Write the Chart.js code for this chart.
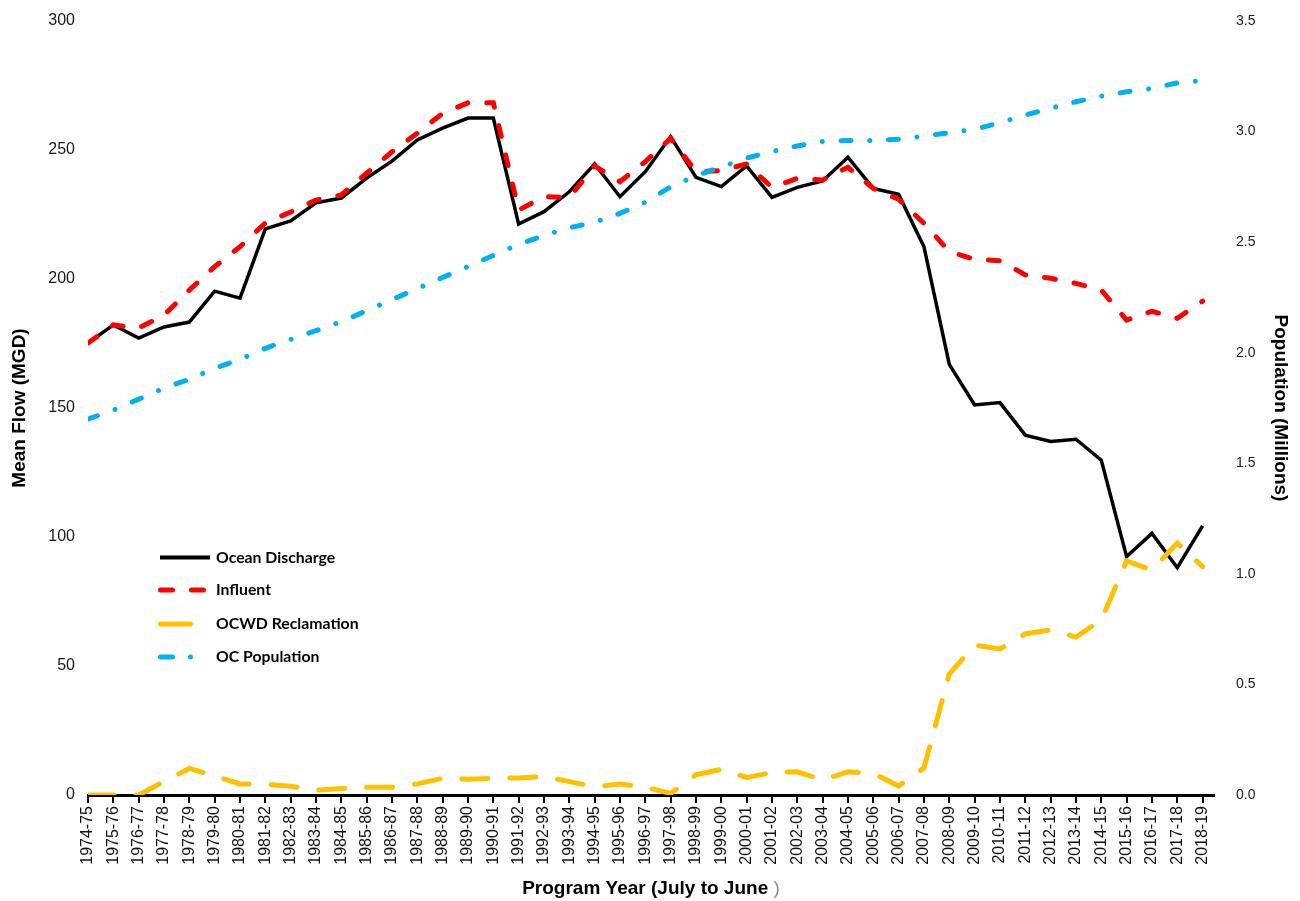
<!DOCTYPE html>
<html><head><meta charset="utf-8">
<script src="https://cdn.jsdelivr.net/npm/chart.js@4/dist/chart.umd.min.js"></script>
<style>html,body{margin:0;padding:0;background:#fff}#wrap{width:1300px;height:901px}</style>
</head><body><div id="wrap"><canvas id="c" width="1300" height="901"></canvas></div>
<script>
const categories = ['1974-75','1975-76','1976-77','1977-78','1978-79','1979-80','1980-81','1981-82','1982-83','1983-84','1984-85','1985-86','1986-87','1987-88','1988-89','1989-90','1990-91','1991-92','1992-93','1993-94','1994-95','1995-96','1996-97','1997-98','1998-99','1999-00','2000-01','2001-02','2002-03','2003-04','2004-05','2005-06','2006-07','2007-08','2008-09','2009-10','2010-11','2011-12','2012-13','2013-14','2014-15','2015-16','2016-17','2017-18','2018-19'];
const oceanDischarge = [175.2,182.2,177.1,181.4,183.3,195.3,192.6,219.4,222.5,229.5,231.4,239.1,245.7,253.9,258.5,262.4,262.4,221.3,226.1,233.8,244.6,231.9,241.6,255.2,239.4,235.8,243.8,231.6,235.5,238,247.2,235.1,232.8,212.5,166.9,151.2,152.1,139.5,137,137.9,129.8,92.4,101.4,88.1,104.3];
const influent = [175.2,182.2,181,186,195.7,204.8,212.5,221.7,226,230.6,232.6,241,249.3,256.5,264.2,268.3,268.3,226.7,231.9,231.6,243.8,237.7,245.5,254.5,241.6,242,244.6,235.5,239,238.4,243.3,235.1,230.9,221.6,210.6,207.6,207.1,201.6,200.3,198.3,195.7,184.1,187.5,184.8,191.4];
const ocwdReclamation = [0,0,0,5.2,10.3,7.4,4.3,4.2,3.4,1.9,2.5,3.0,3.0,4.3,6.5,6.1,6.5,6.6,7.1,5.2,3.2,4.3,3.0,0.6,7.8,10.0,6.8,8.7,9.0,5.8,9.0,8.4,3.5,10.5,46.9,58.1,56.6,62.4,64,61.2,67.8,90.7,87.2,97.7,88.5];
const ocPopulation = [1.70,1.74,1.79,1.84,1.88,1.93,1.97,2.02,2.06,2.10,2.14,2.19,2.24,2.29,2.34,2.39,2.44,2.49,2.53,2.565,2.59,2.63,2.68,2.75,2.80,2.84,2.88,2.91,2.935,2.955,2.96,2.96,2.965,2.98,2.995,3.01,3.04,3.075,3.105,3.135,3.16,3.18,3.195,3.22,3.23];
const seriesNames = ['Ocean Discharge','Influent','OCWD Reclamation','OC Population'];
const flowTicks = [0,50,100,150,200,250,300];
const popTicks = [0,0.5,1,1.5,2,2.5,3,3.5];
const xTitleMain = 'Program Year (July to June ';
const xTitleEnd = ')';

const toXY = arr => arr.map((v,i)=>({x:i,y:v}));

const datasets = [
  {label:seriesNames[0], data:toXY(oceanDischarge), yAxisID:'y', borderColor:'#000000', borderWidth:3.5, borderJoinStyle:'miter', order:4, legendDash:[], legendLen:[160,210], legendWidth:4},
  {label:seriesNames[1], data:toXY(influent), yAxisID:'y', borderColor:'#FF0000', borderWidth:5, borderDash:[11,19], borderCapStyle:'round', order:3, legendDash:[12,19], legendLen:[160.5,204]},
  {label:seriesNames[2], data:toXY(ocwdReclamation), yAxisID:'y', borderColor:'#FFC000', borderWidth:5, borderDash:[26,22], borderCapStyle:'round', order:2, legendDash:[], legendLen:[160.5,190.5]},
  {label:seriesNames[3], data:toXY(ocPopulation), yAxisID:'y1', borderColor:'#00B0F0', borderWidth:5, borderDash:[10,18.7,0.01,18.7], borderCapStyle:'round', order:1, legendDash:[12,18,0.01,50], legendLen:[160.5,192]}
];
datasets.forEach(d=>{d.pointRadius=0;d.pointHoverRadius=0;d.tension=0;d.fill=false;d.backgroundColor=d.borderColor;});

const customLegend = {
  id:'customLegend',
  afterDraw(chart){
    const ctx = chart.ctx;
    const rows = [557.5, 590, 624, 657];
    chart.data.datasets.forEach((ds,i)=>{
      const y = rows[i];
      ctx.save();
      ctx.strokeStyle = ds.borderColor;
      ctx.lineWidth = ds.legendWidth || ds.borderWidth;
      ctx.lineCap = ds.borderCapStyle || 'butt';
      ctx.setLineDash(ds.legendDash);
      ctx.beginPath();
      ctx.moveTo(ds.legendLen[0], y);
      ctx.lineTo(ds.legendLen[1], y);
      ctx.stroke();
      ctx.restore();
      ctx.save();
      ctx.fillStyle = '#000';
      ctx.font = 'bold 15.8px Lato, "Open Sans", sans-serif';
      ctx.textBaseline = 'middle';
      ctx.fillText(ds.label, 216, y);
      ctx.restore();
    });
    // x-axis title (last parenthesis in grey, as in the source)
    const area = chart.chartArea;
    ctx.save();
    ctx.font = 'bold 19px "Liberation Sans", Arial, sans-serif';
    ctx.textBaseline = 'middle';
    const w1 = ctx.measureText(xTitleMain).width;
    ctx.font = '19px "Liberation Sans", Arial, sans-serif';
    const w2 = ctx.measureText(xTitleEnd).width;
    const x0 = (area.left + area.right) / 2 - (w1 + w2) / 2;
    ctx.font = 'bold 19px "Liberation Sans", Arial, sans-serif';
    ctx.fillStyle = '#000';
    ctx.fillText(xTitleMain, x0, 889);
    ctx.font = '19px "Liberation Sans", Arial, sans-serif';
    ctx.fillStyle = '#8c8c8c';
    ctx.fillText(xTitleEnd, x0 + w1, 889);
    ctx.restore();
  }
};

new Chart(document.getElementById('c'), {
  type:'line',
  data:{datasets},
  options:{
    responsive:false,
    animation:false,
    devicePixelRatio:1,
    layout:{padding:{top:21,left:0,right:0,bottom:0}},
    plugins:{legend:{display:false},tooltip:{enabled:false}},
    scales:{
      x:{
        type:'linear', min:0, max:44.45,
        afterFit:s=>{s.height=106;},
        grid:{display:true, drawOnChartArea:false, drawTicks:true, tickLength:8, color:'#000', lineWidth:2},
        border:{display:true, color:'#000', width:3},
        ticks:{stepSize:1, includeBounds:false, autoSkip:false, minRotation:90, maxRotation:90, padding:3,
          color:'#111', font:{family:'"Liberation Sans", Arial, sans-serif', size:16},
          callback:v=> Number.isInteger(v) ? categories[v] : ''},
        title:{display:false}
      },
      y:{
        position:'left', min:0, max:300,
        afterFit:s=>{s.width=88; s.paddingTop=0; s.paddingBottom=0;},
        afterBuildTicks:s=>{s.ticks = flowTicks.map(v=>({value:v}));},
        grid:{display:false, drawTicks:false}, border:{display:false},
        ticks:{padding:13, color:'#1a1a1a', font:{family:'"Liberation Sans", Arial, sans-serif', size:16}},
        title:{display:true, text:'Mean Flow (MGD)', color:'#000',
          font:{family:'"Liberation Sans", Arial, sans-serif', size:19, weight:'bold'}, padding:{top:8,bottom:0}}
      },
      y1:{
        position:'right', min:0, max:3.5,
        afterFit:s=>{s.width=86; s.paddingTop=0; s.paddingBottom=0;},
        afterBuildTicks:s=>{s.ticks = popTicks.map(v=>({value:v}));},
        grid:{display:false, drawTicks:false}, border:{display:false},
        ticks:{padding:22, color:'#1a1a1a', font:{family:'"Liberation Sans", Arial, sans-serif', size:14},
          callback:v=>Number(v).toFixed(1)},
        title:{display:true, text:'Population (Millions)', color:'#000',
          font:{family:'"Liberation Sans", Arial, sans-serif', size:19, weight:'bold'}, padding:{top:8.6,bottom:0}}
      }
    }
  },
  plugins:[customLegend]
});
</script></body></html>
